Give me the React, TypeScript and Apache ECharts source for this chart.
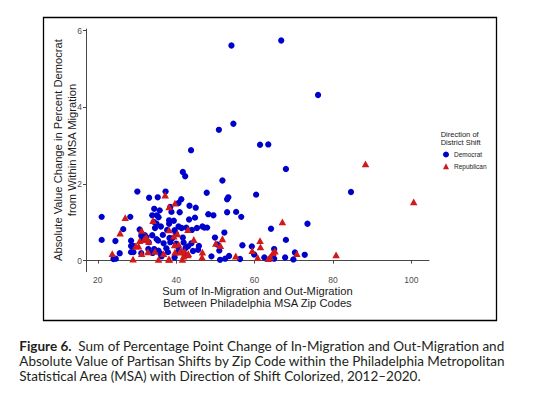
import React, { useEffect, useRef } from 'react';
import * as echarts from 'echarts';

const xTicks = [20, 40, 60, 80, 100];
const yTicks = [0, 2, 4, 6];
const seriesNames = ['Democrat', 'Republican'];

const democratPoints: number[][] = [
  [21.0, 1.14], [21.0, 0.54], [24.5, 0.51], [24.0, 0.04], [24.6, 0.05], [25.6, 0.19], [26.5, 0.82],
  [28.3, 1.14], [28.5, 0.52], [28.5, 0.38], [29.1, 0.38], [28.5, 0.22], [29.1, 0.22], [30.1, 1.80],
  [30.7, 0.81], [31.1, 0.65], [31.5, 0.57], [31.1, 0.19], [32.0, 0.66], [32.4, 0.61], [33.1, 1.64],
  [35.3, 1.65], [34.4, 1.35], [35.8, 1.31], [33.9, 1.18], [35.1, 1.18], [35.5, 1.13], [34.3, 1.01],
  [35.0, 0.96], [34.6, 0.85], [36.1, 0.89], [33.9, 0.66], [35.0, 0.56], [35.4, 0.52], [32.9, 0.30],
  [34.4, 0.30], [35.5, 0.26], [36.0, 0.18], [36.3, 0.11], [36.6, 0.67], [37.3, 1.80], [38.5, 1.40],
  [38.8, 1.27], [38.2, 1.05], [39.4, 1.04], [38.2, 0.96], [37.7, 0.80], [38.3, 0.59], [39.0, 0.58],
  [39.6, 0.79], [39.9, 0.71], [40.6, 1.50], [41.3, 1.60], [40.9, 1.26], [38.5, 0.48], [40.0, 0.44],
  [40.5, 0.36], [37.9, 0.22], [39.6, 0.08], [40.6, 0.24], [41.7, 2.31], [42.3, 2.20], [41.4, 0.85],
  [42.6, 0.86], [41.7, 0.60], [41.9, 0.47], [42.4, 0.33], [42.2, 0.14], [43.3, 1.07], [43.4, 1.43],
  [43.8, 2.88], [44.0, 0.80], [43.9, 0.45], [44.3, 0.25], [45.0, 1.38], [44.8, 1.12], [45.3, 0.85],
  [45.8, 0.38], [46.7, 0.89], [47.2, 0.86], [47.9, 0.86], [47.8, 1.77], [48.2, 1.21], [49.5, 1.18],
  [49.0, 0.11], [49.9, 0.60], [50.5, 0.42], [51.0, 0.26], [51.2, 0.02], [50.9, 3.41], [51.8, 2.09],
  [52.3, 0.73], [52.5, 0.05], [53.0, 1.26], [53.0, 1.60], [53.3, 1.65], [53.5, 0.12], [54.1, 5.61],
  [54.6, 3.57], [55.3, 1.27], [56.3, 0.04], [56.6, 1.14], [56.9, 0.40], [59.3, 0.37], [59.9, 0.16],
  [60.4, 1.72], [61.4, 3.02], [62.5, 0.08], [63.5, 3.03], [64.2, 0.83], [65.0, 0.30], [65.0, 0.05],
  [66.8, 5.74], [68.0, 2.39], [68.0, 0.54], [67.8, 0.08], [69.9, 0.03], [70.3, 0.21], [72.8, 0.15],
  [73.5, 0.96], [76.2, 4.32], [84.6, 1.79],
  [40.6, 0.89], [43.0, 0.37], [45.6, 0.28], [37.5, 0.32], [36.8, 0.45], [34.0, 0.20], [33.0, 0.48],
];

const republicanPoints: number[][] = [
  [23.7, 0.18], [25.7, 0.72], [27.0, 1.12], [29.0, 0.04], [29.7, 0.38], [30.4, 0.38], [31.2, 0.79],
  [30.7, 0.52], [32.3, 0.61], [32.7, 0.56], [31.2, 0.18], [32.8, 0.23], [34.1, 1.04], [34.6, 0.24],
  [35.5, 0.03], [36.8, 0.18], [37.2, 1.71], [38.2, 1.40], [38.2, 0.80], [38.3, 0.03], [39.7, 1.50],
  [39.4, 0.64], [40.6, 0.43], [39.7, 0.22], [40.9, 0.22], [41.4, 0.26], [41.9, 0.12], [41.6, 0.03],
  [43.0, 0.81], [43.1, 0.18], [44.5, 0.55], [46.7, 0.22], [46.6, 0.09], [50.1, 0.45], [51.8, 0.57],
  [51.3, 0.39], [55.2, 0.12], [59.4, 0.26], [61.4, 0.52], [61.5, 0.36], [60.8, 0.08], [63.5, 0.05],
  [64.7, 0.21], [67.1, 1.01], [70.8, 0.18], [80.8, 0.15], [88.3, 2.52], [100.6, 1.53],
  [40.3, 0.70], [39.6, 0.41], [42.2, 0.24], [43.0, 0.15], [38.1, 0.04], [33.0, 0.50], [31.8, 0.55],
  [64.0, 0.10], [65.2, 0.25],
];

const BLUE = '#0000CD';
const RED = '#D01A1A';
const AX = 'Liberation Sans, Arial, sans-serif';

export default function App() {
  const ref = useRef<HTMLDivElement>(null);
  useEffect(() => {
    const chart = echarts.init(ref.current!, null, { renderer: 'svg' });
    const axisLineStyle = { color: '#333', width: 0.9 };
    chart.setOption({
      animation: false,
      backgroundColor: '#ffffff',
      grid: { left: 86, top: 29, width: 343, height: 242.7, containLabel: false, outerBoundsMode: 'none' },
      xAxis: {
        type: 'value', min: 17, max: 104.5,
        splitLine: { show: false },
        axisLine: { show: true, lineStyle: axisLineStyle },
        axisTick: { show: true, length: 3, customValues: xTicks, lineStyle: axisLineStyle },
        axisLabel: { customValues: xTicks, fontSize: 8.5, color: '#4d4d4d', margin: 4, fontFamily: AX },
      },
      yAxis: {
        type: 'value', min: -0.29, max: 6.04,
        splitLine: { show: false },
        axisLine: { show: true, lineStyle: axisLineStyle },
        axisTick: { show: true, length: 3, customValues: yTicks, lineStyle: axisLineStyle },
        axisLabel: { customValues: yTicks, fontSize: 8.5, color: '#4d4d4d', margin: 4, fontFamily: AX },
      },
      legend: {
        data: seriesNames,
        orient: 'vertical',
        left: 443, top: 151,
        itemWidth: 6, itemHeight: 6, itemGap: 4.7, padding: 0,
        textStyle: { fontSize: 6.5, color: '#222', fontFamily: AX },
      },
      series: [
        { name: seriesNames[0], type: 'scatter', data: democratPoints, symbol: 'circle', symbolSize: 6.3, itemStyle: { color: BLUE, opacity: 1 } },
        { name: seriesNames[1], type: 'scatter', data: republicanPoints, symbol: 'triangle', symbolSize: [7.5, 6.8], itemStyle: { color: RED, opacity: 1 } },
      ],
      graphic: [
        { type: 'rect', shape: { x: 43.5, y: 17.5, width: 453, height: 303 }, style: { fill: 'none', stroke: '#000', lineWidth: 1.3 }, silent: true },
        {
          type: 'text', x: 65, y: 150, rotation: Math.PI / 2,
          style: { text: 'Absolute Value Change in Percent Democrat\nfrom Within MSA Migration', fontSize: 11.2, lineHeight: 13.3, fill: '#1a1a1a', fontFamily: AX, align: 'center', verticalAlign: 'middle' },
        },
        {
          type: 'text', x: 257.5, y: 296.7,
          style: { text: 'Sum of In-Migration and Out-Migration\nBetween Philadelphia MSA Zip Codes', fontSize: 11.2, lineHeight: 12, fill: '#1a1a1a', fontFamily: AX, align: 'center', verticalAlign: 'middle' },
        },
        {
          type: 'text', x: 440.7, y: 138.8,
          style: { text: 'Direction of\nDistrict Shift', fontSize: 7.5, lineHeight: 7.7, fill: '#1a1a1a', fontFamily: AX, align: 'left', verticalAlign: 'middle' },
        },
        {
          type: 'text', x: 19.3, y: 361,
          style: {
            text: '{b|Figure 6.}  Sum of Percentage Point Change of In-Migration and Out-Migration and\nAbsolute Value of Partisan Shifts by Zip Code within the Philadelphia Metropolitan\nStatistical Area (MSA) with Direction of Shift Colorized, 2012–2020.',
            fontSize: 13.5, lineHeight: 15, fill: '#231f20', fontFamily: 'Lato, sans-serif', align: 'left', verticalAlign: 'middle',
            rich: { b: { fontWeight: 'bold', fontSize: 13.5, fontFamily: 'Lato, sans-serif', fill: '#231f20' } },
          },
        },
      ],
    });
    return () => chart.dispose();
  }, []);
  return <div ref={ref} style={{ position: 'absolute', left: 0, top: 0, width: 536, height: 407, background: '#fff' }} />;
}
